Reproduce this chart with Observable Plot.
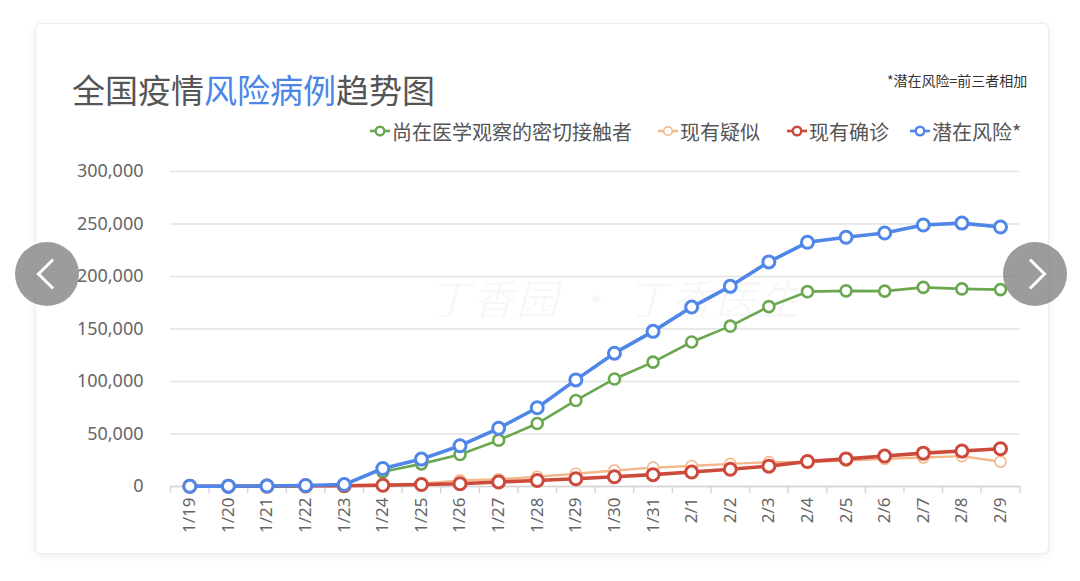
<!DOCTYPE html>
<html>
<head>
<meta charset="utf-8">
<script src="https://cdn.jsdelivr.net/npm/d3@7"></script>
<script src="https://cdn.jsdelivr.net/npm/@observablehq/plot@0.6"></script>
<style>
  html, body { margin:0; padding:0; background:#ffffff; }
  body { width:1080px; height:581px; position:relative; overflow:hidden; font-family:"Noto Sans CJK SC","Noto Sans",sans-serif; }
  #card { position:absolute; left:35px; top:23px; width:1012px; height:529px; border:1px solid #ececec; border-radius:6px; box-shadow:0 2px 8px rgba(0,0,0,0.07); background:#fff; }
  #title { position:absolute; left:72px; top:70px; font-size:33px; line-height:38px; color:#555; white-space:nowrap; }
  #title .hl { color:#4a86e8; }
  #note { position:absolute; left:887px; top:72px; font-size:14px; line-height:16px; color:#333; white-space:nowrap; }
  .leg { position:absolute; top:119px; height:24px; display:flex; align-items:center; font-size:20px; color:#555; white-space:nowrap; }
  .leg svg { margin-right:1px; }
  #watermark { position:absolute; left:428px; top:266px; font-size:42px; color:rgba(0,0,0,0.035); font-style:italic; white-space:nowrap; letter-spacing:2px; }
  #chart { position:absolute; left:0; top:150px; }
  .btn { position:absolute; top:242px; width:64px; height:64px; border-radius:50%; background:rgba(128,128,128,0.78); }
  .btn .chev { position:absolute; width:19px; height:19px; border-left:3px solid #fff; border-bottom:3px solid #fff; top:21px; }
  #prev { left:15px; } #prev .chev { left:26px; transform:rotate(45deg); }
  #next { left:1003px; } #next .chev { left:17px; transform:rotate(-135deg); }
</style>
</head>
<body>
<div id="card"></div>
<div id="watermark">丁香园 · 丁香医生</div>
<div id="title">全国疫情<span class="hl">风险病例</span>趋势图</div>
<div id="note">*潜在风险=前三者相加</div>
<div id="legend"></div>
<div id="chart"></div>
<div class="btn" id="prev"><div class="chev"></div></div>
<div class="btn" id="next"><div class="chev"></div></div>
<script>
// ---- data ----
const dates = ["1/19","1/20","1/21","1/22","1/23","1/24","1/25","1/26","1/27","1/28","1/29","1/30","1/31","2/1","2/2","2/3","2/4","2/5","2/6","2/7","2/8","2/9"];
const contacts  = [null,null,null,null,null,13967,21556,30453,44132,59990,81947,102427,118478,137594,152700,171329,185555,186354,186045,189660,188183,187518];
const suspected = [0,54,37,393,1072,1965,2684,5794,6973,9239,12167,15238,17988,19544,21558,23214,23260,24702,26359,27657,28942,23589];
const confirmed = [190,270,400,530,771,1208,1870,2613,4349,5739,7417,9308,11289,13748,16369,19381,23784,26302,28985,31774,33738,35982];
const risk      = [190,324,437,923,1843,17140,26110,38860,55454,74968,101531,126973,147755,170886,190627,213924,232599,237358,241389,249091,250863,247089];
const seriesNames = ["尚在医学观察的密切接触者","现有疑似","现有确诊","潜在风险*"];
const seriesValues = [contacts, suspected, confirmed, risk];
const seriesColors = ["#6aa84f","#f5b78a","#cc4a3b","#4f86e8"];
const yTicks = [0,50000,100000,150000,200000,250000,300000];

// styles per series
const lineWidths = [2.6, 2.4, 3.6, 3.6];
const dotR = [5.5, 5.5, 6, 6];
const dotSW = [2.6, 1.6, 3, 3];

// ---- legend ----
const legendLeft = [369, 657, 786, 909];
const legend = document.getElementById("legend");
seriesNames.forEach((name, i) => {
  const el = document.createElement("div");
  el.className = "leg";
  el.style.left = legendLeft[i] + "px";
  el.innerHTML = `<svg width="22" height="14"><line x1="1" y1="7" x2="21" y2="7" stroke="${seriesColors[i]}" stroke-width="2.6"/><circle cx="11" cy="7" r="4.3" fill="#fff" stroke="${seriesColors[i]}" stroke-width="${i===1?1.6:2.4}"/></svg><span>${name}</span>`;
  legend.appendChild(el);
});

// ---- rows ----
const rows = [];
seriesNames.forEach((name, s) => {
  dates.forEach((d, i) => rows.push({date: d, series: name, s, value: seriesValues[s][i]}));
});

const W = 1080, H = 400, mL = 170, mR = 60.7, mT = 21, mB = 64;
const step = (W - mL - mR) / dates.length;

const seriesMarks = [];
seriesNames.forEach((name, s) => {
  const data = rows.filter(r => r.s === s);
  seriesMarks.push(Plot.line(data, {x: "date", y: "value", stroke: seriesColors[s], strokeWidth: lineWidths[s], curve: "linear"}));
  seriesMarks.push(Plot.dot(data.filter(r => r.value != null), {x: "date", y: "value", r: dotR[s], fill: "#fff", stroke: seriesColors[s], strokeWidth: dotSW[s]}));
});

const chart = Plot.plot({
  width: W, height: H,
  marginLeft: mL, marginRight: mR, marginTop: mT, marginBottom: mB,
  x: {type: "point", domain: dates, padding: 0.5, round: false, label: null},
  y: {domain: [0, 300000], label: null},
  style: {background: "transparent", fontFamily: "'Noto Sans','Noto Sans CJK SC',sans-serif", overflow: "visible"},
  marks: [
    Plot.gridY({ticks: yTicks, stroke: "#e2e2e2", strokeOpacity: 1, strokeWidth: 1.4}),
    Plot.axisY({ticks: yTicks, tickSize: 0, tickPadding: 27, tickFormat: d3.format(","), fontSize: 18, fill: "#666", label: null}),
    Plot.ruleY([0], {stroke: "#d4d4d4", strokeWidth: 1.6}),
    Plot.axisX({tickSize: 7, tickFormat: () => "", dx: -step / 2, stroke: "#d4d4d4", strokeWidth: 1.4, label: null}),
    Plot.axisX({ticks: [dates[dates.length - 1]], tickSize: 7, tickFormat: () => "", dx: step / 2, stroke: "#d4d4d4", strokeWidth: 1.4, label: null}),
    Plot.axisX({tickSize: 0, tickPadding: 11, tickRotate: -90, fontSize: 17, fill: "#666", label: null}),
    ...seriesMarks
  ]
});
document.getElementById("chart").appendChild(chart);
</script>
</body>
</html>
